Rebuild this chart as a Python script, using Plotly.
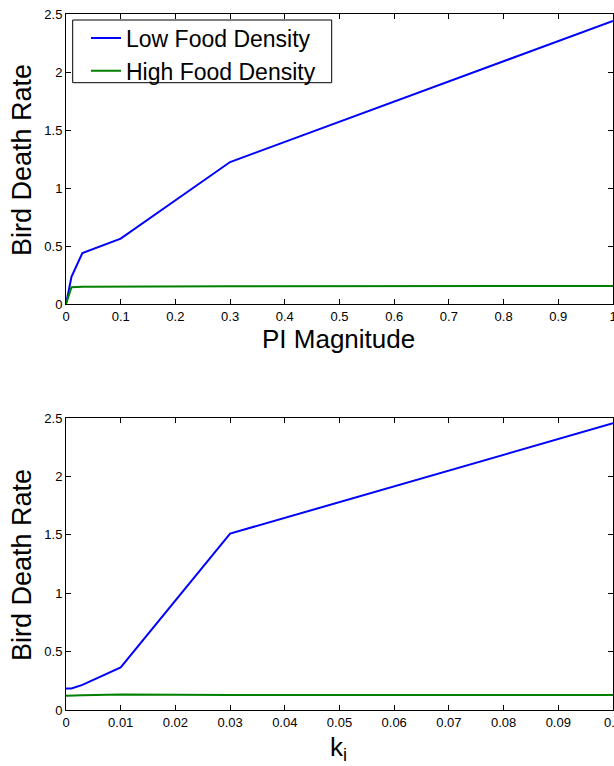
import plotly.graph_objects as go

# Top panel: PI Magnitude
pi_mag = [0, 0.01, 0.03, 0.1, 0.3, 1.0]
pi_low = [0.0, 0.235, 0.44, 0.563, 1.224, 2.44]
pi_high = [0.0, 0.144, 0.148, 0.150, 0.153, 0.155]

# Bottom panel: k_i
ki = [0, 0.001, 0.003, 0.01, 0.03, 0.1]
ki_low = [0.185, 0.185, 0.215, 0.365, 1.51, 2.455]
ki_high = [0.122, 0.122, 0.126, 0.133, 0.128, 0.128]

series_names = ["Low Food Density", "High Food Density"]
colors = ["#0000FF", "#008000"]

W, H = 614, 766
FONT = "Liberation Sans, Arial, Helvetica, sans-serif"

fig = go.Figure()
fig.add_trace(go.Scatter(x=pi_mag, y=pi_low, mode="lines", name=series_names[0],
                         line=dict(color=colors[0], width=2), xaxis="x", yaxis="y"))
fig.add_trace(go.Scatter(x=pi_mag, y=pi_high, mode="lines", name=series_names[1],
                         line=dict(color=colors[1], width=2), xaxis="x", yaxis="y"))
fig.add_trace(go.Scatter(x=ki, y=ki_low, mode="lines", name=series_names[0], showlegend=False,
                         line=dict(color=colors[0], width=2), xaxis="x2", yaxis="y2"))
fig.add_trace(go.Scatter(x=ki, y=ki_high, mode="lines", name=series_names[1], showlegend=False,
                         line=dict(color=colors[1], width=2), xaxis="x2", yaxis="y2"))

x_dom = [66 / W, 613 / W]
top_dom = [1 - 304 / H, 1 - 14 / H]
bot_dom = [1 - 710 / H, 1 - 418 / H]

ax_common = dict(showline=True, linecolor="black", linewidth=1, mirror="ticks",
                 ticks="inside", ticklen=5, tickcolor="black", showgrid=False,
                 zeroline=False, automargin=False, ticklabeloverflow="allow",
                 tickfont=dict(size=13, color="black", family=FONT))

fig.update_layout(
    width=W, height=H,
    margin=dict(l=0, r=0, t=0, b=0, autoexpand=False),
    paper_bgcolor="white", plot_bgcolor="white",
    font=dict(family=FONT, color="black"),
    xaxis=dict(domain=x_dom, anchor="y", range=[0, 1], dtick=0.1, **ax_common),
    yaxis=dict(domain=top_dom, anchor="x", range=[0, 2.5], dtick=0.5, **ax_common),
    xaxis2=dict(domain=x_dom, anchor="y2", range=[0, 0.1], dtick=0.01, **ax_common),
    yaxis2=dict(domain=bot_dom, anchor="x2", range=[0, 2.5], dtick=0.5, **ax_common),
    legend=dict(x=86 / W, y=1 - 16.5 / H, xanchor="left", yanchor="top",
                borderwidth=0, bgcolor="rgba(0,0,0,0)",
                font=dict(size=23, color="black", family=FONT),
                tracegroupgap=0),
    showlegend=True,
    shapes=[dict(type="rect", xref="paper", yref="paper",
                 x0=72.7 / W, x1=331.7 / W, y0=1 - 82.7 / H, y1=1 - 20 / H,
                 line=dict(color="black", width=1), fillcolor="white", layer="above")],
)

annotations = [
    dict(text="Bird Death Rate", x=22 / W, y=1 - 160 / H, textangle=-90,
         font=dict(size=27)),
    dict(text="Bird Death Rate", x=22 / W, y=1 - 565 / H, textangle=-90,
         font=dict(size=27)),
    dict(text="PI Magnitude", x=338 / W, y=1 - 339 / H, font=dict(size=26)),
    dict(text="k<sub>i</sub>", x=338 / W, y=1 - 748 / H, font=dict(size=26)),
]
for a in annotations:
    a.update(xref="paper", yref="paper", showarrow=False, xanchor="center", yanchor="middle")
    a["font"].update(family=FONT, color="black")
fig.update_layout(annotations=annotations)

fig.write_html(
    "out.html",
    config={"displayModeBar": False},
    post_script="document.body.style.margin='0';document.body.style.overflow='hidden';"
                "document.documentElement.style.overflow='hidden';",
)
